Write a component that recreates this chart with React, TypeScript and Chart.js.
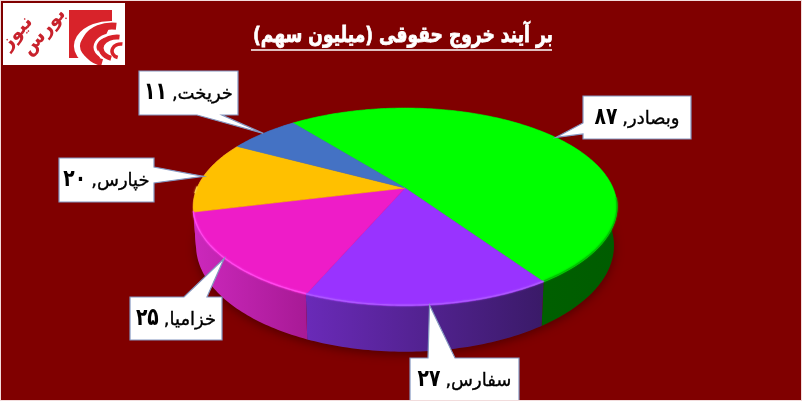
import React, { useEffect, useRef } from "react";
import { Chart, registerables } from "chart.js";

Chart.register(...registerables);

const titleText = "بر آیند خروج حقوقی (میلیون سهم)";
const categories = ["وبصادر", "سفارس", "خزامیا", "خپارس", "خریخت"];
const values = [87, 27, 25, 20, 11];
const valueLabels = ["۸۷", "۲۷", "۲۵", "۲۰", "۱۱"];
const faceColors = ["#00ff00", "#9933ff", "#ee1cc8", "#ffc000", "#4472c4"];
const wallStart = ["#006a00", "#6a2ab8", "#cc28bc", "#cc28bc", "#2f5597"];
const wallEnd = ["#005c00", "#3a1a68", "#a81a96", "#cc28bc", "#2f5597"];
const rimColors = ["#00c000", "#ad58ff", "#ff48ee", "#ffd040", "#5585d8"];

const BG = "#800000";
const FONT = '"DejaVu Sans", sans-serif';

// Perspective of the pie's top face: the slice apex and how the disc is foreshortened.
const CX = 405;
const CY = 188;
const RX = 208;
const RY = 95.3;
const TILT = 0.192;
const DEPTH = 37;
const BOTTOM_SCALE = 0.986;

// Callout boxes, one per slice, and the span of the box edge the tail leaves from.
const boxes = [
  { x: 583, y: 96, w: 108, h: 43, side: "left", a: 123, b: 134 },
  { x: 410, y: 358, w: 109, h: 45, side: "top", a: 428, b: 455 },
  { x: 130, y: 297, w: 92, h: 43, side: "top", a: 184, b: 207 },
  { x: 59, y: 158, w: 95, h: 44, side: "right", a: 167, b: 183 },
  { x: 139, y: 71, w: 99, h: 44, side: "bottom", a: 197, b: 222 },
];

function project(t: number) {
  const u = Math.cos(t);
  const v = Math.sin(t);
  const w = 1 - TILT * v;
  return { x: CX + (RX * u) / w, y: CY + (RY * v) / w, w };
}
function projectBottom(t: number) {
  const p = project(t);
  return { x: CX + (p.x - CX) * BOTTOM_SCALE, y: p.y + DEPTH / p.w };
}
function rimAngles(a: number, b: number) {
  const n = Math.max(2, Math.ceil(((b - a) * 180) / Math.PI));
  const out: number[] = [];
  for (let i = 0; i <= n; i++) out.push(a + ((b - a) * i) / n);
  return out;
}

function drawPie(chart: any) {
  const ctx: CanvasRenderingContext2D = chart.ctx;
  const arcs = chart.getDatasetMeta(0).data as any[];
  const all = rimAngles(0, Math.PI * 2);

  // soft shadow under the pie
  ctx.save();
  ctx.shadowColor = "rgba(40,0,0,0.5)";
  ctx.shadowBlur = 10;
  ctx.shadowOffsetY = 3;
  ctx.fillStyle = "#700000";
  ctx.beginPath();
  all.forEach((t, i) => {
    const p = projectBottom(t);
    i ? ctx.lineTo(p.x, p.y) : ctx.moveTo(p.x, p.y);
  });
  ctx.closePath();
  ctx.fill();
  ctx.restore();

  // side walls
  arcs.forEach((arc, i) => {
    const { startAngle, endAngle } = arc.getProps(["startAngle", "endAngle"], true);
    const ts = rimAngles(startAngle, endAngle);
    const xs = ts.map((t) => project(t).x);
    const minX = Math.min(...xs);
    const maxX = Math.max(...xs);
    const g = ctx.createLinearGradient(minX, 0, maxX, 0);
    g.addColorStop(0, wallStart[i]);
    g.addColorStop(1, wallEnd[i]);
    ctx.fillStyle = g;
    ctx.beginPath();
    ts.forEach((t, k) => {
      const p = project(t);
      k ? ctx.lineTo(p.x, p.y) : ctx.moveTo(p.x, p.y);
    });
    [...ts].reverse().forEach((t) => {
      const p = projectBottom(t);
      ctx.lineTo(p.x, p.y);
    });
    ctx.closePath();
    ctx.fill();
  });

  // top faces
  arcs.forEach((arc, i) => {
    const { startAngle, endAngle } = arc.getProps(["startAngle", "endAngle"], true);
    ctx.fillStyle = faceColors[i];
    ctx.strokeStyle = faceColors[i];
    ctx.lineWidth = 0.6;
    ctx.beginPath();
    ctx.moveTo(CX, CY);
    rimAngles(startAngle, endAngle).forEach((t) => {
      const p = project(t);
      ctx.lineTo(p.x, p.y);
    });
    ctx.closePath();
    ctx.fill();
    ctx.stroke();
  });

  // bevel along the visible front rim
  arcs.forEach((arc, i) => {
    const { startAngle, endAngle } = arc.getProps(["startAngle", "endAngle"], true);
    const ts = rimAngles(startAngle, endAngle).filter((t) => Math.sin(t) > 0.1);
    if (ts.length < 2 && i !== 3) return;
    const seg = i === 3 ? rimAngles(Math.PI * 0.98, startAngle + 0.25) : ts;
    ctx.save();
    ctx.strokeStyle = rimColors[i];
    ctx.lineWidth = 1.2;
    ctx.shadowColor = rimColors[i];
    ctx.shadowBlur = 2;
    ctx.beginPath();
    seg.forEach((t, k) => {
      const p = project(t);
      k ? ctx.lineTo(p.x, p.y - 0.8) : ctx.moveTo(p.x, p.y - 0.8);
    });
    ctx.stroke();
    ctx.restore();
  });
}

function drawCallouts(chart: any) {
  const ctx: CanvasRenderingContext2D = chart.ctx;
  const arcs = chart.getDatasetMeta(0).data as any[];
  arcs.forEach((arc, i) => {
    const { startAngle, endAngle } = arc.getProps(["startAngle", "endAngle"], true);
    const tip = project((startAngle + endAngle) / 2);
    const b = boxes[i];
    const r = b.x + b.w;
    const bt = b.y + b.h;
    ctx.beginPath();
    ctx.moveTo(b.x, b.y);
    if (b.side === "top") {
      ctx.lineTo(b.a, b.y);
      ctx.lineTo(tip.x, tip.y);
      ctx.lineTo(b.b, b.y);
    }
    ctx.lineTo(r, b.y);
    if (b.side === "right") {
      ctx.lineTo(r, b.a);
      ctx.lineTo(tip.x, tip.y);
      ctx.lineTo(r, b.b);
    }
    ctx.lineTo(r, bt);
    if (b.side === "bottom") {
      ctx.lineTo(b.b, bt);
      ctx.lineTo(tip.x, tip.y);
      ctx.lineTo(b.a, bt);
    }
    ctx.lineTo(b.x, bt);
    if (b.side === "left") {
      ctx.lineTo(b.x, b.b);
      ctx.lineTo(tip.x, tip.y);
      ctx.lineTo(b.x, b.a);
    }
    ctx.closePath();
    ctx.fillStyle = "#ffffff";
    ctx.fill();
    ctx.strokeStyle = "#8496c0";
    ctx.lineWidth = 1.2;
    ctx.stroke();

    // name and comma at the right, the number in a heavier, narrower face at the left
    ctx.save();
    ctx.direction = "ltr";
    ctx.textBaseline = "alphabetic";
    ctx.fillStyle = "#000000";
    ctx.strokeStyle = "#000000";
    ctx.lineWidth = 0.35;
    const nameFont = `18px ${FONT}`;
    const digitFont = `bold 24px ${FONT}`;
    const digitScale = 0.78;
    const name = `${categories[i]},`;
    ctx.font = nameFont;
    const nameW = ctx.measureText(name).width;
    ctx.font = digitFont;
    const digitW = ctx.measureText(valueLabels[i]).width * digitScale;
    const gap = 5;
    const left = b.x + (b.w - (nameW + gap + digitW)) / 2;
    const base = b.y + 28;
    ctx.textAlign = "left";
    ctx.save();
    ctx.translate(left, base);
    ctx.scale(digitScale, 1);
    ctx.fillText(valueLabels[i], 0, 0);
    ctx.restore();
    ctx.font = nameFont;
    ctx.direction = "rtl";
    ctx.textAlign = "right";
    ctx.fillText(name, left + digitW + gap + nameW, base);
    ctx.strokeText(name, left + digitW + gap + nameW, base);
    ctx.restore();
  });
}

function drawTitle(chart: any) {
  const ctx: CanvasRenderingContext2D = chart.ctx;
  ctx.save();
  ctx.direction = "rtl";
  ctx.textAlign = "center";
  ctx.textBaseline = "alphabetic";
  ctx.fillStyle = "#ffffff";
  ctx.strokeStyle = "#ffffff";
  ctx.lineWidth = 0.8;
  ctx.font = `bold 22px ${FONT}`;
  const w = ctx.measureText(titleText).width;
  const sx = 300 / w;
  ctx.save();
  ctx.translate(403, 42);
  ctx.scale(sx, 1);
  ctx.fillText(titleText, 0, 0);
  ctx.strokeText(titleText, 0, 0);
  ctx.restore();
  ctx.lineWidth = 1.5;
  ctx.beginPath();
  ctx.moveTo(251, 50);
  ctx.lineTo(552, 50);
  ctx.stroke();
  ctx.restore();
}

function drawLogo(ctx: CanvasRenderingContext2D) {
  const red = "#d8232a";
  ctx.save();
  ctx.fillStyle = "#ffffff";
  ctx.fillRect(3, 3, 122, 62);
  ctx.beginPath();
  ctx.rect(3, 3, 122, 62);
  ctx.clip();
  ctx.fillStyle = red;
  ctx.fillRect(69, 10, 43, 48);

  const band = (cx: number, cy: number, rx: number, ry: number, lw: number, color: string) => {
    ctx.strokeStyle = color;
    ctx.lineWidth = lw;
    ctx.beginPath();
    ctx.ellipse(cx, cy, rx, ry, 0, Math.PI * 0.62, Math.PI * 1.55);
    ctx.stroke();
  };
  ctx.lineCap = "butt";
  band(111, 46, 34, 22, 6, "#ffffff");
  ctx.fillStyle = "#ffffff";
  ctx.beginPath();
  ctx.moveTo(112, 22);
  ctx.lineTo(125, 22);
  ctx.lineTo(125, 58);
  ctx.lineTo(100, 58);
  ctx.lineTo(98, 52);
  ctx.closePath();
  ctx.fill();
  band(112, 45, 27, 19, 7, red);
  band(116, 47, 21, 13, 3, "#ffffff");
  band(117, 48, 16, 11, 5, red);
  band(121, 51, 9, 7, 3.5, red);

  ctx.direction = "rtl";
  ctx.textAlign = "center";
  ctx.textBaseline = "middle";
  ctx.fillStyle = "#c8222c";
  ctx.font = `bold 19px ${FONT}`;
  ctx.save();
  ctx.translate(44, 32);
  ctx.rotate(-0.85);
  ctx.fillText("بورس", 0, 0);
  ctx.restore();
  ctx.save();
  ctx.translate(17, 33);
  ctx.rotate(-0.85);
  ctx.fillText("نیوز", 0, 0);
  ctx.restore();
  ctx.restore();
}

const pie3d = {
  id: "pie3d",
  beforeDraw(chart: any) {
    const { ctx, width, height } = chart;
    ctx.save();
    ctx.fillStyle = BG;
    ctx.fillRect(0, 0, width, height);
    ctx.restore();
  },
  beforeDatasetsDraw(chart: any) {
    drawPie(chart);
    return false;
  },
  afterDraw(chart: any) {
    const { ctx, width, height } = chart;
    drawCallouts(chart);
    drawTitle(chart);
    drawLogo(ctx);
    ctx.save();
    ctx.strokeStyle = "#f2dcdc";
    ctx.lineWidth = 1;
    ctx.strokeRect(0.5, 0.5, width - 1, height - 1);
    ctx.restore();
  },
};

export default function App() {
  const ref = useRef<HTMLCanvasElement>(null);
  useEffect(() => {
    const canvas = ref.current!;
    canvas.dir = "rtl";
    const chart = new Chart(canvas, {
      type: "pie",
      data: {
        labels: categories,
        datasets: [{ data: values, backgroundColor: faceColors, borderWidth: 0 }],
      },
      options: {
        animation: false,
        responsive: false,
        devicePixelRatio: 1,
        rotation: -38.3,
        events: [],
        plugins: {
          legend: { display: false },
          tooltip: { enabled: false },
        },
      },
      plugins: [pie3d],
    } as any);
    return () => chart.destroy();
  }, []);
  return (
    <div style={{ position: "fixed", left: 0, top: 0, width: 802, height: 401 }}>
      <canvas ref={ref} width={802} height={401} style={{ display: "block", width: 802, height: 401 }} />
    </div>
  );
}
